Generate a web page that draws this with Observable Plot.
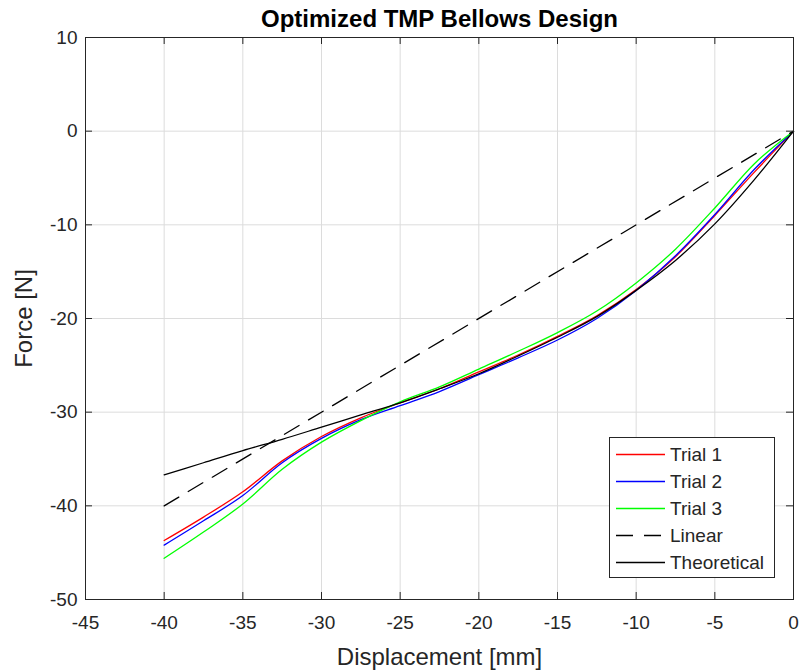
<!DOCTYPE html>
<html>
<head>
<meta charset="utf-8">
<script src="https://cdn.jsdelivr.net/npm/d3@7"></script>
<script src="https://cdn.jsdelivr.net/npm/@observablehq/plot@0.6"></script>
<style>
  html, body { margin: 0; padding: 0; background: white; }
  #wrap { position: relative; width: 802px; height: 672px; }
  #legend { position: absolute; }
</style>
</head>
<body>
<div id="wrap"></div>
<script>
// ---- data ----
const displacement = [-40, -37.5, -35, -32.5, -30, -27.5, -25, -22.5, -20, -17.5, -15, -12.5, -10, -7.5, -5, -2.5, 0];
const trial1 = [-43.7, -41.2, -38.5, -35.2, -32.6, -30.6, -29.0, -27.5, -25.7, -23.9, -21.9, -19.7, -16.9, -13.4, -9.0, -4.4, 0];
const trial2 = [-44.2, -41.6, -38.9, -35.4, -32.8, -30.8, -29.3, -27.8, -26.0, -24.2, -22.3, -20.0, -17.0, -13.3, -8.9, -4.1, 0];
const trial3 = [-45.6, -42.8, -39.8, -36.1, -33.2, -30.9, -28.9, -27.3, -25.4, -23.5, -21.5, -19.2, -16.2, -12.6, -8.2, -3.5, 0];
const theoretical = [-36.7, -35.4, -34.1, -32.9, -31.6, -30.3, -29.0, -27.5, -25.9, -24.0, -22.0, -19.8, -17.0, -13.8, -9.9, -5.2, 0];
const linearDisp = [-40, 0];
const linearForce = [-40, 0];
const seriesNames = ["Trial 1", "Trial 2", "Trial 3", "Linear", "Theoretical"];
const seriesColors = ["#ff0000", "#0000ff", "#00ff00", "#000000", "#000000"];
const seriesDash = [null, null, null, "17,11", null];
const xTicks = [-45, -40, -35, -30, -25, -20, -15, -10, -5, 0];
const yTicks = [-50, -40, -30, -20, -10, 0, 10];
const titleText = "Optimized TMP Bellows Design";
const xLabel = "Displacement [mm]";
const yLabel = "Force [N]";

// ---- build tables ----
const toRows = (xs, ys, name) => xs.map((x, i) => ({x, y: ys[i], name}));
const lines = [
  toRows(displacement, trial1, seriesNames[0]),
  toRows(displacement, trial2, seriesNames[1]),
  toRows(displacement, trial3, seriesNames[2]),
  toRows(linearDisp, linearForce, seriesNames[3]),
  toRows(displacement, theoretical, seriesNames[4])
];

const W = 802, H = 672;
const mL = 85, mR = 9, mT = 37, mB = 73;
const frameW = W - mL - mR, frameH = H - mT - mB;
const tickLen = 7;
const axisColor = "#262626";
const font = "'Liberation Sans', Arial, Helvetica, sans-serif";
const fmt = d => String(d);

const chart = Plot.plot({
  width: W, height: H,
  marginLeft: mL, marginRight: mR, marginTop: mT, marginBottom: mB,
  x: {domain: [-45, 0]},
  y: {domain: [-50, 10]},
  style: {fontFamily: font, fontSize: "19px", color: axisColor, background: "white"},
  marks: [
    Plot.gridX(xTicks, {stroke: "#dcdcdc", strokeOpacity: 1}),
    Plot.gridY(yTicks, {stroke: "#dcdcdc", strokeOpacity: 1}),
    ...lines.map((rows, i) => Plot.line(rows, {
      x: "x", y: "y",
      stroke: seriesColors[i],
      strokeWidth: 1.3,
      curve: "monotone-x",
      strokeDasharray: seriesDash[i] || undefined
    })),
    Plot.frame({stroke: axisColor, strokeWidth: 1}),
    // inward ticks on all four sides
    Plot.tickX(xTicks, {x: d => d, insetTop: frameH - tickLen, stroke: axisColor}),
    Plot.tickX(xTicks, {x: d => d, insetBottom: frameH - tickLen, stroke: axisColor}),
    Plot.tickY(yTicks, {y: d => d, insetRight: frameW - tickLen, stroke: axisColor}),
    Plot.tickY(yTicks, {y: d => d, insetLeft: frameW - tickLen, stroke: axisColor}),
    Plot.axisX(xTicks, {tickSize: 0, tickPadding: 16, label: null, fontSize: 19, fill: axisColor, tickFormat: fmt}),
    Plot.axisY(yTicks, {tickSize: 0, tickPadding: 8, label: null, fontSize: 19, fill: axisColor, tickFormat: fmt}),
    Plot.text([xLabel], {frameAnchor: "bottom", textAnchor: "middle", lineAnchor: "middle", dy: 58, fontSize: 24, fill: axisColor}),
    Plot.text([yLabel], {frameAnchor: "left", textAnchor: "middle", lineAnchor: "middle", dx: -61, rotate: -90, fontSize: 24, fill: axisColor}),
    Plot.text([titleText], {frameAnchor: "top", textAnchor: "middle", lineAnchor: "middle", dy: -18, fontSize: 24, fontWeight: "bold", fill: "#000"})
  ]
});
document.getElementById("wrap").appendChild(chart);

// ---- legend overlay ----
const lg = {left: 609, top: 437, w: 165, h: 140, rowH: 27, first: 17};
const svg = d3.select("#wrap").append("svg")
  .attr("id", "legend")
  .attr("width", lg.w + 2).attr("height", lg.h + 2)
  .style("left", lg.left + "px").style("top", lg.top + "px");
svg.append("rect").attr("x", 0.5).attr("y", 0.5).attr("width", lg.w).attr("height", lg.h)
  .attr("fill", "white").attr("stroke", axisColor);
seriesNames.forEach((name, i) => {
  const cy = lg.first + i * lg.rowH + 0.5;
  svg.append("line").attr("x1", 7).attr("x2", 56).attr("y1", cy).attr("y2", cy)
    .attr("stroke", seriesColors[i]).attr("stroke-width", 1.3)
    .attr("stroke-dasharray", seriesDash[i]);
  svg.append("text").attr("x", 61).attr("y", cy).attr("dy", "0.35em")
    .attr("font-family", font).attr("font-size", 19).attr("fill", axisColor)
    .text(name);
});
</script>
</body>
</html>
